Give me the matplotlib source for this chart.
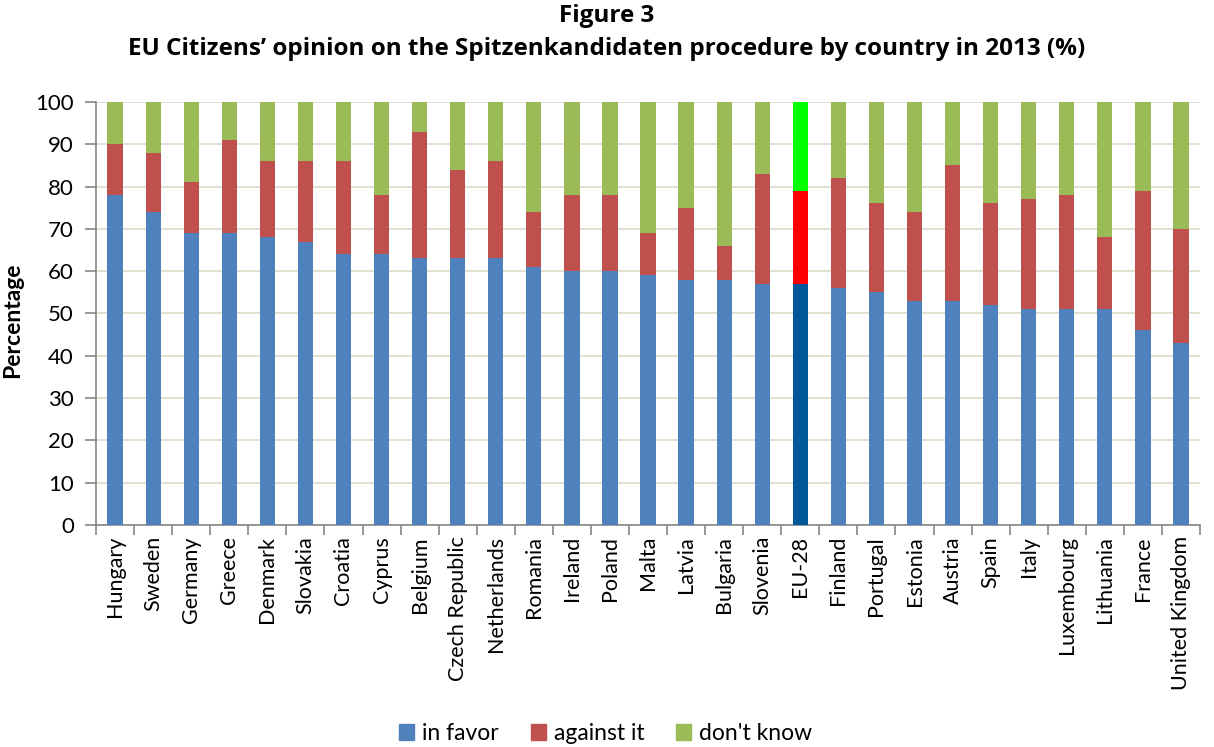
import matplotlib
matplotlib.use("Agg")
import matplotlib.pyplot as plt
from matplotlib.patches import Patch
import numpy as np

countries = ["Hungary", "Sweden", "Germany", "Greece", "Denmark", "Slovakia", "Croatia",
             "Cyprus", "Belgium", "Czech Republic", "Netherlands", "Romania", "Ireland",
             "Poland", "Malta", "Latvia", "Bulgaria", "Slovenia", "EU-28", "Finland",
             "Portugal", "Estonia", "Austria", "Spain", "Italy", "Luxembourg", "Lithuania",
             "France", "United Kingdom"]
in_favor = [78, 74, 69, 69, 68, 67, 64, 64, 63, 63, 63, 61, 60, 60, 59, 58, 58, 57, 57,
            56, 55, 53, 53, 52, 51, 51, 51, 46, 43]
against_it = [12, 14, 12, 22, 18, 19, 22, 14, 30, 21, 23, 13, 18, 18, 10, 17, 8, 26, 22,
              26, 21, 21, 32, 24, 26, 27, 17, 33, 27]
dont_know = [10, 12, 19, 9, 14, 14, 14, 22, 7, 16, 14, 26, 22, 22, 31, 25, 34, 17, 21,
             18, 24, 26, 15, 24, 23, 22, 32, 21, 30]
y_ticks = list(range(0, 101, 10))

plt.rcParams['font.family'] = ['Lato', 'DejaVu Sans']

c_fav, c_ag, c_dk = "#4F81BD", "#C0504D", "#9BBB59"
hl = "EU-28"
fav_cols = ["#00589A" if c == hl else c_fav for c in countries]
ag_cols = ["#FF0000" if c == hl else c_ag for c in countries]
dk_cols = ["#00FF00" if c == hl else c_dk for c in countries]

fig = plt.figure(figsize=(12.14, 7.47), dpi=100)
ax = fig.add_axes([0.0791, 0.2972, 0.9094, 0.5663])

x = np.arange(len(countries))
fav = np.array(in_favor)
ag = np.array(against_it)
dk = np.array(dont_know)
w = 0.4
ax.bar(x, fav, w, color=fav_cols, zorder=3)
ax.bar(x, ag, w, bottom=fav, color=ag_cols, zorder=3)
ax.bar(x, dk, w, bottom=fav + ag, color=dk_cols, zorder=3)

ax.set_xlim(-0.5, len(countries) - 0.5)
ax.set_ylim(0, 100)
ax.set_yticks(y_ticks)
ax.tick_params(axis="y", labelsize=16, length=8, width=1.2, color="#868686",
               direction="out", pad=8)
ax.yaxis.grid(True, color="#DDDAC8", linewidth=1.2, zorder=0)

ax.set_xticks(x)
ax.set_xticklabels(countries, rotation=90, fontsize=15.5)
ax.tick_params(axis="x", length=0, pad=8)
ax.set_xticks(np.arange(-0.5, len(countries), 1.0), minor=True)
ax.tick_params(axis="x", which="minor", length=7, width=1.2, color="#868686", direction="out")

for s in ["top", "right"]:
    ax.spines[s].set_visible(False)
for s in ["left", "bottom"]:
    ax.spines[s].set_color("#868686")
    ax.spines[s].set_linewidth(1.2)

ax.set_ylabel("Percentage", fontsize=16.5, fontweight="bold")
ax.yaxis.set_label_coords(-0.066, 0.483)

title_font = ["Open Sans", "DejaVu Sans"]
fig.text(0.5, 0.979, "Figure 3", ha="center", va="center", fontsize=17.5,
         fontweight="bold", family=title_font)
fig.text(0.5, 0.935, "EU Citizens\u2019 opinion on the Spitzenkandidaten procedure by country in 2013 (%)",
         ha="center", va="center", fontsize=17.5, fontweight="bold", family=title_font)

leg_handles = [Patch(color=c_fav), Patch(color=c_ag), Patch(color=c_dk)]
fig.legend(leg_handles, ["in favor", "against it", "don't know"], loc="center",
           bbox_to_anchor=(0.499, 0.018), ncol=3, frameon=False, fontsize=16.5,
           handlelength=0.65, handleheight=0.65, handletextpad=0.35, columnspacing=1.4)

fig.savefig("out.png", dpi=100)
